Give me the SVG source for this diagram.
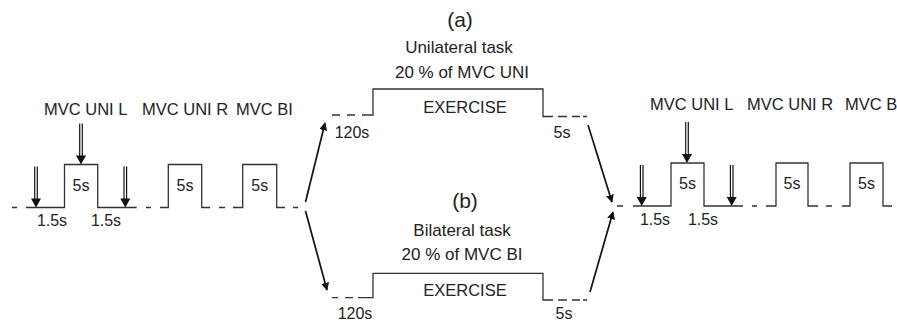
<svg xmlns="http://www.w3.org/2000/svg" width="897" height="322" viewBox="0 0 897 322">
<style>
text{font-family:"Liberation Sans",Arial,sans-serif;fill:#222}
.t{font-size:17px;text-anchor:middle}
.h{font-size:21px;text-anchor:middle}
.m{font-size:16.5px}
.e{font-size:16.5px;text-anchor:middle}
.s{font-size:16px;text-anchor:middle}
.w{fill:none;stroke:#333;stroke-width:1.3}
.c{fill:none;stroke:#111;stroke-width:1.7}
</style>
<defs>
<marker id="ah" viewBox="0 0 10 10" refX="9" refY="5" markerWidth="8" markerHeight="8" markerUnits="userSpaceOnUse" orient="auto">
<path d="M0,0 L10,5 L0,10 z" fill="#111"/>
</marker>
<g id="dbl">
<line x1="-1.3" y1="-41" x2="-1.3" y2="-7" stroke="#111" stroke-width="1.2"/>
<line x1="1.3" y1="-41" x2="1.3" y2="-7" stroke="#111" stroke-width="1.2"/>
<polygon points="-5,-9 5,-9 0,0" fill="#111"/>
</g>
</defs>

<g id="title-a">
<text class="h" x="460" y="27">(a)</text>
<text class="t" x="459" y="53">Unilateral task</text>
<text class="t" x="462" y="78">20 % of MVC UNI</text>
</g>
<g id="title-b">
<text class="h" x="465" y="208">(b)</text>
<text class="t" x="462" y="236">Bilateral task</text>
<text class="t" x="462" y="260">20 % of MVC BI</text>
</g>

<g id="pre-test">
<path class="w" d="M12,207.5H17 M26,207.5H64.5V164.5H97.7V207.5H136.7 M146,207.5H151 M160,207.5H168.3V164.5H201.7V207.5H210 M219,207.5H225 M233,207.5H242.7V164.5H276.7V207.5H285 M293,207.5H298"/>
<use href="#dbl" x="36" y="207.5"/>
<use href="#dbl" x="81" y="164.5"/>
<use href="#dbl" x="125.3" y="207.5"/>
<text class="m" x="44" y="115">MVC UNI L</text>
<text class="m" x="142" y="115">MVC UNI R</text>
<text class="m" x="236" y="115">MVC BI</text>
<text class="s" x="81" y="191">5s</text>
<text class="s" x="185" y="191">5s</text>
<text class="s" x="259.7" y="191">5s</text>
<text class="s" x="52" y="226">1.5s</text>
<text class="s" x="106" y="226">1.5s</text>
</g>

<g id="exercise-a">
<path class="w" d="M332,115H340 M347,115H355 M362,115H373V89H543V116.5H553 M558,116.5H567 M572,116.5H580 M583,116.5H587"/>
<text class="e" x="465" y="113">EXERCISE</text>
<text class="s" x="352" y="138">120s</text>
<text class="s" x="562" y="138">5s</text>
</g>

<g id="exercise-b">
<path class="w" d="M332,297.7H338 M345,297.7H353 M358,297.7H373V273.3H543V300H553 M558,300H567 M572,300H580 M583,300H587"/>
<text class="e" x="465" y="296">EXERCISE</text>
<text class="s" x="355" y="319">120s</text>
<text class="s" x="564" y="319">5s</text>
</g>

<g id="post-test">
<path class="w" d="M617,206H623 M633,206H671V163H704V206H743 M752,206H757 M766,206H776V163H808V206H818 M826,206H832 M842,206H850V163H883V206H892"/>
<use href="#dbl" x="641.7" y="206"/>
<use href="#dbl" x="687" y="163"/>
<use href="#dbl" x="731.7" y="206"/>
<text class="m" x="650" y="110">MVC UNI L</text>
<text class="m" x="747" y="110">MVC UNI R</text>
<text class="m" x="845" y="110">MVC B</text>
<text class="s" x="687.5" y="189">5s</text>
<text class="s" x="792" y="189">5s</text>
<text class="s" x="866.5" y="189">5s</text>
<text class="s" x="655" y="225">1.5s</text>
<text class="s" x="703" y="225">1.5s</text>
</g>

<g id="connectors">
<line class="c" x1="305.5" y1="202" x2="325" y2="123" marker-end="url(#ah)"/>
<line class="c" x1="305.5" y1="211" x2="327" y2="290" marker-end="url(#ah)"/>
<line class="c" x1="588" y1="125" x2="612" y2="202" marker-end="url(#ah)"/>
<line class="c" x1="590" y1="292" x2="613" y2="212" marker-end="url(#ah)"/>
</g>
</svg>
